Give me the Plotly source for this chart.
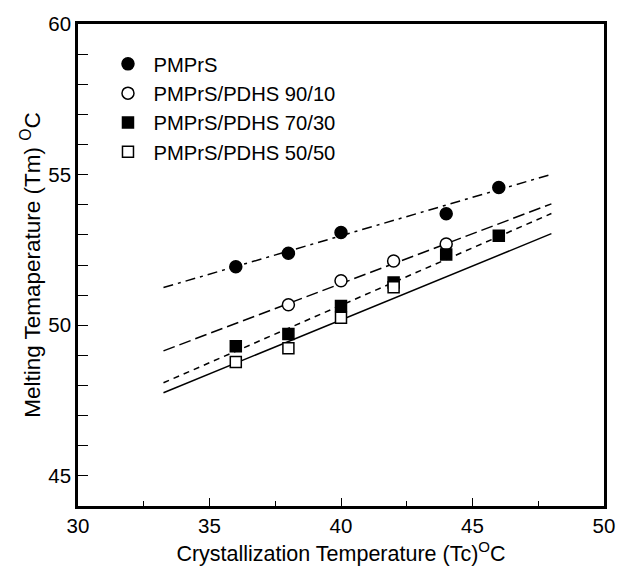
import plotly.graph_objects as go

# Crystallization temperature (Tc, °C) and melting temperature (Tm, °C)
tc_pmprs = [36, 38, 40, 44, 46]
tm_pmprs = [51.94, 52.39, 53.08, 53.70, 54.57]

tc_9010 = [38, 40, 42, 44]
tm_9010 = [50.68, 51.48, 52.13, 52.70]

tc_7030 = [36, 38, 40, 42, 44, 46]
tm_7030 = [49.30, 49.71, 50.64, 51.42, 52.35, 52.97]

tc_5050 = [36, 38, 40, 42]
tm_5050 = [48.78, 49.24, 50.25, 51.26]

# Linear fits (end points of each fitted line)
fit_tc = [33.25, 48.0]
fit_pmprs = [51.25, 55.01]
fit_9010 = [49.15, 54.03]
fit_7030 = [48.09, 53.71]
fit_5050 = [47.76, 53.04]

names = ["PMPrS", "PMPrS/PDHS 90/10", "PMPrS/PDHS 70/30", "PMPrS/PDHS 50/50"]

x_major = [30, 35, 40, 45, 50]
y_major = [45, 50, 55, 60]

fig = go.Figure()

line_specs = [
    (fit_pmprs, "10px,5px,3px,5px"),
    (fit_9010, "12px,5px"),
    (fit_7030, "6px,5px"),
    (fit_5050, "solid"),
]
for ys, dash in line_specs:
    fig.add_trace(go.Scatter(
        x=fit_tc, y=ys, mode="lines", showlegend=False, hoverinfo="skip",
        line=dict(color="black", width=1.5, dash=dash)))

marker_specs = [
    (tc_pmprs, tm_pmprs, "circle", "black", 12),
    (tc_9010, tm_9010, "circle", "white", 12),
    (tc_7030, tm_7030, "square", "black", 11),
    (tc_5050, tm_5050, "square", "white", 11),
]
for (xs, ys, sym, fill, size), name in zip(marker_specs, names):
    fig.add_trace(go.Scatter(
        x=xs, y=ys, mode="markers", name="\u00a0" + name,
        marker=dict(symbol=sym, color=fill, size=size,
                    line=dict(color="black", width=1.5))))

font = "Liberation Sans, Arial, sans-serif"

fig.update_layout(
    width=627, height=574,
    margin=dict(l=78, r=21, t=16, b=67),
    paper_bgcolor="white", plot_bgcolor="white",
    font=dict(family=font, size=20.5, color="black"),
    legend=dict(x=0.057, y=0.958, xanchor="left", yanchor="top",
                bgcolor="rgba(0,0,0,0)", font=dict(size=20.2),
                itemsizing="trace", tracegroupgap=0),
    xaxis=dict(
        range=[30, 50], tickmode="array", tickvals=x_major,
        ticks="inside", ticklen=8, tickwidth=1.2, tickcolor="black",
        minor=dict(dtick=2.5, ticks="inside", ticklen=5, tickwidth=1.2, tickcolor="black"),
        showgrid=False, zeroline=False,
        showline=True, linecolor="black", linewidth=2.5, mirror=True,
        title=dict(text="Crystallization Temperature (Tc)<sup>O</sup>C",
                   font=dict(size=21.5), standoff=10),
    ),
    yaxis=dict(
        range=[44, 60], tickmode="array", tickvals=y_major,
        ticks="inside", ticklen=10, tickwidth=1.2, tickcolor="black",
        minor=dict(dtick=1, ticks="inside", ticklen=10, tickwidth=1.2, tickcolor="black"),
        showgrid=False, zeroline=False,
        showline=True, linecolor="black", linewidth=2.5, mirror=True,
        title=dict(text="Melting Temaperature (Tm) <sup>O</sup>C",
                   font=dict(size=22.5), standoff=2),
    ),
)

fig.write_html("out.html")
